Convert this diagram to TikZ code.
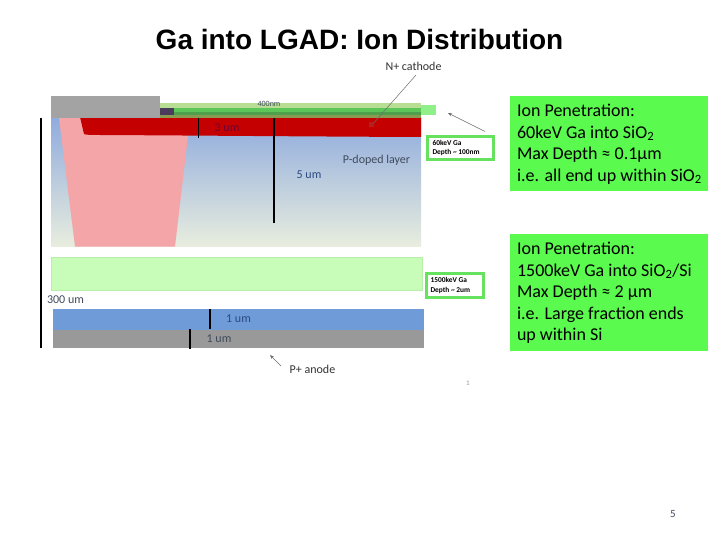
\documentclass[tikz,border=0pt]{standalone}
\usepackage{fontspec}
\setmainfont{Carlito}
\newfontfamily\titlefont{Liberation Sans}
\usetikzlibrary{arrows.meta}
\definecolor{boxgreen}{HTML}{5AFA4E}
\definecolor{bordergreen}{HTML}{66E25E}
\definecolor{softgreen}{HTML}{C8FDB9}
\definecolor{softedge}{HTML}{B8EDAA}
\definecolor{stripgreen}{HTML}{5CC658}
\definecolor{stripdark}{HTML}{4FA04C}
\definecolor{striplight}{HTML}{B8DE94}
\definecolor{stripolive}{HTML}{8A9A50}
\definecolor{extgreen}{HTML}{8FF08A}
\definecolor{redlayer}{HTML}{C40000}
\definecolor{pinkzone}{HTML}{F3A5A8}
\definecolor{greybox}{HTML}{A3A3A3}
\definecolor{bluelayer}{HTML}{6F9BD8}
\definecolor{greylayer}{HTML}{999999}
\definecolor{darklabel}{HTML}{3F4A5C}
\definecolor{bluelabel}{HTML}{2A4A7F}
\definecolor{gradtop}{HTML}{8FABDE}
\definecolor{gradbot}{HTML}{E8EDDE}
\definecolor{padpurple}{HTML}{4A3D5C}
\tikzset{
  px/.style={x=1pt,y=-1pt},
  plain/.style={inner sep=0pt,outer sep=0pt},
  sidetext/.style={plain,anchor=north west,text=black,font=\fontsize{18}{21.6}\selectfont,align=left},
  tinytext/.style={plain,anchor=west,font=\fontsize{7.4}{9.3}\selectfont\bfseries,align=left,text=black},
  boxlabel/.style={plain,font=\fontsize{12}{14}\selectfont,text=darklabel},
  scale line/.style={draw=black,line width=1.5pt},
  callout/.style={draw=gray!85!black,line width=0.5pt,-{Stealth[length=4pt,width=3pt]}},
  greenframe/.style={draw=bordergreen,line width=2.6pt,fill=white},
}
\begin{document}
\begin{tikzpicture}[px]
\useasboundingbox (0,0) rectangle (720,540);
\fill[white] (0,0) rectangle (720,540);
\node[plain,font=\titlefont\bfseries\fontsize{28}{30}\selectfont,text=black] (title) at (359.5,39) {Ga into LGAD: Ion Distribution};

% upper device
\shade[top color=gradtop,bottom color=gradbot] (51,117) rectangle (421,246.5);
\fill[pinkzone] (59,118) -- (190,118) -- (188,136) -- (175,246.5) -- (75,246.5) -- cycle;
\fill[redlayer] (80,117) -- (421,117) -- (421,137) .. controls (300,136.5) and (200,135.5) .. (100,135) .. controls (92,135) and (86,135) .. (84,134) -- cycle;
\fill[striplight] (160,103) rectangle (421,108);
\fill[stripgreen] (160,108) rectangle (421,114);
\fill[stripdark] (160,112.5) rectangle (421,115);
\fill[stripolive] (160,115) rectangle (421,118);
\fill[extgreen] (421,105) rectangle (436,115);
\fill[padpurple] (160,108) rectangle (174,115);
\fill[greybox] (50.7,96) rectangle (160,117.7);

% lower device
\draw[draw=softedge,fill=softgreen,line width=0.7pt] (51.5,257) rectangle (422.5,290);
\fill[bluelayer] (53,309) rectangle (424,330);
\fill[greylayer] (53,330) rectangle (424,347.5);

% scale bars
\coordinate (barAtop) at (41,118);
\coordinate (barAbot) at (41,347.5);
\draw[scale line] (barAtop) -- (barAbot);
\coordinate (barBtop) at (198.5,118);
\coordinate (barBbot) at (198.5,138);
\draw[scale line] (barBtop) -- (barBbot);
\coordinate (barCtop) at (274,118);
\coordinate (barCbot) at (274,223);
\draw[scale line] (barCtop) -- (barCbot);
\coordinate (barDtop) at (210,309);
\coordinate (barDbot) at (210,329);
\draw[scale line] (barDtop) -- (barDbot);
\coordinate (barEtop) at (190,329);
\coordinate (barEbot) at (190,348.5);
\draw[scale line] (barEtop) -- (barEbot);

% labels on the device
\node[boxlabel,text=red!55!black!80!blue] (lthree) at (227,128) {3 um};
\node[boxlabel,text=bluelabel] (lfive) at (309,174.5) {5 um};
\node[boxlabel] (lp) at (376.5,160) {P-doped layer};
\node[plain,font=\fontsize{8}{9}\selectfont,text=darklabel] (lnm) at (269,103.5) {400nm};
\node[boxlabel,text=black!80] (lcath) at (413.5,66) {N+ cathode};
\node[boxlabel,text=bluelabel] (lone) at (238.5,319) {1 um};
\node[boxlabel] (ltwo) at (219,338.5) {1 um};
\node[boxlabel] (lthree00) at (65.5,300) {300 um};
\node[boxlabel,text=black!80] (lanode) at (312.5,369.5) {P+ anode};
\node[plain,font=\fontsize{7}{8}\selectfont,text=black!40] (lone1) at (468,383) {1};

% framed notes
\node[greenframe,plain,draw=bordergreen,line width=2.6pt,fill=white,minimum width=66pt,minimum height=23pt] (frameA) at (460.5,148) {};
\node[tinytext] (textA) at ([xshift=5pt]frameA.west) {60keV Ga\\Depth \textasciitilde{} 100nm};
\node[greenframe,plain,draw=bordergreen,line width=2.6pt,fill=white,minimum width=57pt,minimum height=24pt] (frameB) at (455,285.5) {};
\node[tinytext] (textB) at ([xshift=4pt]frameB.west) {1500keV Ga\\Depth \textasciitilde{} 2um};

% callout lines
\coordinate (cathTip) at (372,125);
\coordinate (cathStart) at (416,75);
\draw[draw=gray!85!black,line width=0.5pt] (cathStart) -- (cathTip);
\fill[redlayer!75!gray] (cathTip) ++(-3,-3) rectangle ++(5,5);
\coordinate (arrA) at (485,131.5);
\coordinate (arrAt) at (448,113);
\draw[callout] (arrA) -- (arrAt);
\coordinate (arrB) at (281,366);
\coordinate (arrBt) at (270,355);
\draw[callout] (arrB) -- (arrBt);

% side text boxes
\fill[boxgreen] (510,96) rectangle (708,191);
\node[sidetext] (noteA) at (517,104) {Ion Penetration:\\60keV Ga into SiO\textsubscript{2}\\Max Depth ≈ 0.1µm\\i.e. all end up within SiO\textsubscript{2}};
\fill[boxgreen] (510,234) rectangle (708,351);
\node[sidetext] (noteB) at (517,242) {Ion Penetration:\\1500keV Ga into SiO\textsubscript{2}/Si\\Max Depth ≈ 2 µm\\i.e. Large fraction ends\\up within Si};

\node[plain,font=\fontsize{11}{13}\selectfont,text=darklabel] (pagenum) at (673,514.5) {5};
\end{tikzpicture}
\end{document}
